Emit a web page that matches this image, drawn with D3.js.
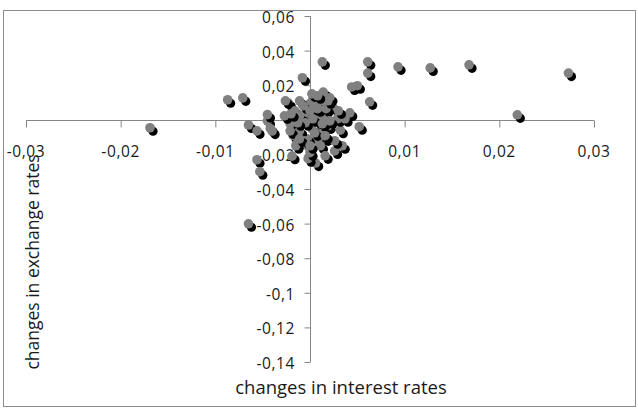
<!DOCTYPE html>
<html>
<head>
<meta charset="utf-8">
<script src="https://cdn.jsdelivr.net/npm/d3@7"></script>
<style>
  body { margin: 0; background: #fff; }
  .chart text { font-family: "Open Sans", sans-serif; fill: #1a1a1a; }
</style>
</head>
<body>
<div class="chart"></div>
<script>
//Size of the page
var width = 638;
var height = 410;

//Data: changes in interest rates (x) vs changes in exchange rates (y)
var interestChanges = [
    -0.0169, -0.0087, -0.0071, -0.0008, -0.0065, -0.0056, -0.0045, -0.0042, -0.0056, -0.0053,
    -0.0065, 0.0013, 0.0061, 0.0061, 0.0093, 0.0127, 0.0168, 0.0273, 0.0219, 0.0044,
    0.0050, 0.0063, 0.0042, 0.0052, 0.0014, 0.0024, 0.0032, 0.0034, 0.0026, 0.0006,
    -0.0023, -0.0021, -0.0018, -0.0013, -0.0005, -0.0003, -0.0019, -0.0002, 0.0003, 0.0000,
    0.0010, 0.0029, 0.0013, 0.0016, 0.0005, 0.0008, -0.0002, 0.0000, -0.0003, -0.0016,
    -0.0011, 0.0005, 0.0008, 0.0016, 0.0019, -0.0011, -0.0005, 0.0013, 0.0021, 0.0002,
    0.0026, 0.0037, -0.0011, -0.0027, -0.0021, 0.0002, 0.0011, 0.0016, 0.0030, -0.0015,
    -0.0002, -0.0045, -0.0040,
    -0.0007, 0.0000, 0.0008, 0.0017, -0.0005, 0.0003, 0.0013, 0.0021, -0.0013, 0.0005,
    0.0016, -0.0011, 0.0000, 0.0019, 0.0008, -0.0026, -0.0020
];
var exchangeChanges = [
    -0.0046, 0.0116, 0.0127, 0.0243, -0.0030, -0.0064, -0.0006, -0.0050, -0.0231, -0.0300,
    -0.0601, 0.0335, 0.0335, 0.0270, 0.0306, 0.0300, 0.0318, 0.0270, 0.0029, 0.0190,
    0.0197, 0.0104, 0.0040, -0.0040, 0.0160, 0.0075, -0.0060, -0.0150, -0.0180, -0.0250,
    0.0098, -0.0023, -0.0090, -0.0130, 0.0070, -0.0005, -0.0210, -0.0225, 0.0120, 0.0095,
    0.0040, 0.0006, -0.0050, -0.0104, -0.0090, -0.0120, -0.0155, -0.0190, -0.0110, 0.0052,
    0.0023, 0.0081, -0.0006, 0.0023, -0.0035, -0.0064, -0.0121, 0.0110, 0.0127, 0.0150,
    -0.0121, 0.0006, 0.0110, 0.0023, -0.0064, -0.0052, -0.0150, -0.0208, 0.0052, -0.0150,
    0.0040, 0.0030, -0.0065,
    0.0081, 0.0052, 0.0064, 0.0064, -0.0017, 0.0006, -0.0023, -0.0006, -0.0017, -0.0075,
    -0.0092, -0.0110, -0.0150, 0.0110, 0.0139, 0.0110, 0.0035
];

//Ticks of both axes
var xTicks = [-0.03, -0.02, -0.01, 0, 0.01, 0.02, 0.03];
var yTicks = [0.06, 0.04, 0.02, 0, -0.02, -0.04, -0.06, -0.08, -0.1, -0.12, -0.14];

var points = interestChanges.map(function(d, i) { return [d, exchangeChanges[i]]; });

var svg = d3.select(".chart")
            .append("svg")
            .attr("width", width)
            .attr("height", height);

//outer chart frame
svg.append("rect")
    .attr("x", 3.5)
    .attr("y", 10.5)
    .attr("width", 632)
    .attr("height", 396)
    .attr("fill", "#fff")
    .attr("stroke", "#8c8c8c");

//scales
var x = d3.scaleLinear().domain([-0.03, 0.03]).range([26, 594]);
var y = d3.scaleLinear().domain([-0.14, 0.06]).range([362, 16]);

//comma decimals and plain hyphen like the excel original
var fmt = function(d) { return String(d).replace(".", ","); };

//tick labels (drawn before the markers, the points cover them)
svg.append("g")
    .selectAll("text")
    .data(xTicks)
    .enter()
    .append("text")
    .attr("x", function(d) { return x(d); })
    .attr("y", 157)
    .attr("text-anchor", "middle")
    .style("font-size", "15.5px")
    .style("letter-spacing", "0.6px")
    .text(fmt);

svg.append("g")
    .selectAll("text")
    .data(yTicks)
    .enter()
    .append("text")
    .attr("x", 295)
    .attr("y", function(d) { return y(d) + 7; })
    .attr("text-anchor", "end")
    .style("font-size", "15.5px")
    .style("letter-spacing", "0.6px")
    .text(fmt);

//x axis at y = 0, ticks pointing down
var xAxis = d3.axisBottom(x).tickValues(xTicks).tickSize(7).tickFormat("");
svg.append("g")
    .attr("transform", "translate(0," + (Math.round(y(0)) + 0.5) + ")")
    .call(xAxis)
    .call(function(g) { g.selectAll("line, path").attr("stroke", "#868686"); })
    .call(function(g) { g.select(".domain").attr("d", "M" + x(-0.03) + ",0H" + x(0.03)); });

//y axis at x = 0, ticks pointing left
var yAxis = d3.axisLeft(y).tickValues(yTicks).tickSize(6).tickFormat("");
svg.append("g")
    .attr("transform", "translate(" + (Math.round(x(0)) + 0.5) + ",0)")
    .call(yAxis)
    .call(function(g) { g.selectAll("line, path").attr("stroke", "#868686"); })
    .call(function(g) { g.select(".domain").attr("d", "M0," + y(0.06) + "V" + y(-0.14)); });

//markers with a black drop shadow
var marker = svg.append("g")
    .selectAll("g")
    .data(points)
    .enter()
    .append("g")
    .attr("transform", function(d) { return "translate(" + x(d[0]) + "," + y(d[1]) + ")"; });

marker.append("circle")
    .attr("cx", 3)
    .attr("cy", 3.5)
    .attr("r", 4.6)
    .attr("fill", "#000");

marker.append("circle")
    .attr("r", 4.8)
    .attr("fill", "#808080");

//axis titles
svg.append("text")
    .attr("x", 341)
    .attr("y", 394)
    .attr("text-anchor", "middle")
    .style("font-size", "18.5px")
    .text("changes in interest rates");

svg.append("text")
    .attr("transform", "translate(39,262) rotate(-90)")
    .attr("text-anchor", "middle")
    .style("font-size", "17.5px")
    .text("changes in exchange rates");
</script>
</body>
</html>
